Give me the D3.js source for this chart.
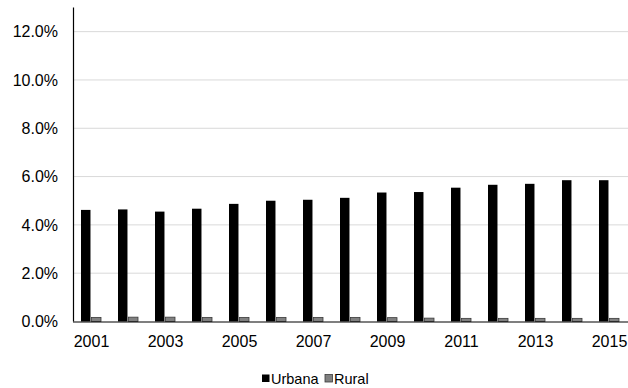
<!DOCTYPE html>
<html>
<head>
<meta charset="utf-8">
<script src="https://cdn.jsdelivr.net/npm/d3@7"></script>
<style>
  body { margin: 0; background: #fff; }
  svg { display: block; font-family: "Liberation Sans", Arial, sans-serif; }
</style>
</head>
<body>
<div id="chart"></div>
<script>
// Data
const years = ["2001", "2002", "2003", "2004", "2005", "2006", "2007", "2008",
  "2009", "2010", "2011", "2012", "2013", "2014", "2015"];
const urbana = [0.0462, 0.0464, 0.0455, 0.0467, 0.0487, 0.0500, 0.0504, 0.0512,
  0.0534, 0.0536, 0.0554, 0.0566, 0.0570, 0.0585, 0.0585];
const rural = [0.0017, 0.0018, 0.0018, 0.0017, 0.0017, 0.0017, 0.0017, 0.0017,
  0.0016, 0.0014, 0.0013, 0.0013, 0.0013, 0.0013, 0.0013];
const seriesNames = ["Urbana", "Rural"];
const yTicks = [0, 0.02, 0.04, 0.06, 0.08, 0.10, 0.12];
const xTickLabels = ["2001", "2003", "2005", "2007", "2009", "2011", "2013", "2015"];

// Layout
const width = 628;
const height = 388;
const plotLeft = 73;
const plotRight = 628;
const plotTop = 7.5;
const plotBottom = 321.5;

const colors = { Urbana: "#000000", Rural: "#808080" };
const strokes = { Urbana: "none", Rural: "#3a3a3a" };

const rows = years.map(function (y, i) {
  return { year: y, Urbana: urbana[i], Rural: rural[i] };
});

const svg = d3.select("#chart")
  .append("svg")
  .attr("width", width)
  .attr("height", height);

//-----------------------------SCALES-----------------------------//
const x0 = d3.scaleBand().domain(years).range([plotLeft, plotRight]).padding(0);
const x1 = d3.scaleBand().domain(seriesNames).range([8, 28]).paddingInner(0.1);
const y = d3.scaleLinear().domain([0, 0.13]).range([plotBottom, plotTop]);

//-----------------------------GRID-----------------------------//
svg.append("g")
  .selectAll("line")
  .data(yTicks.slice(1))
  .enter()
  .append("line")
  .attr("x1", plotLeft)
  .attr("x2", plotRight)
  .attr("y1", function (d) { return y(d); })
  .attr("y2", function (d) { return y(d); })
  .attr("stroke", "#d9d9d9")
  .attr("stroke-width", 1);

//-----------------------------BARS-----------------------------//
const groups = svg.append("g")
  .selectAll("g")
  .data(rows)
  .enter()
  .append("g")
  .attr("transform", function (d) { return `translate(${x0(d.year)},0)`; });

groups.selectAll("rect")
  .data(function (d) {
    return seriesNames.map(function (k) { return { key: k, value: d[k] }; });
  })
  .enter()
  .append("rect")
  .attr("x", function (d) { return x1(d.key); })
  .attr("width", x1.bandwidth())
  .attr("y", function (d) { return y(d.value); })
  .attr("height", function (d) { return y(0) - y(d.value); })
  .attr("fill", function (d) { return colors[d.key]; })
  .attr("stroke", function (d) { return strokes[d.key]; })
  .attr("stroke-width", 0.8);

//-----------------------------AXES-----------------------------//
const yAxis = d3.axisLeft(y)
  .tickValues(yTicks)
  .tickSize(0)
  .tickPadding(15)
  .tickFormat(d3.format(".1%"));

const yg = svg.append("g")
  .attr("transform", `translate(${plotLeft},0)`)
  .call(yAxis);
yg.select(".domain").attr("stroke", "#000").attr("stroke-width", 1.2)
  .attr("d", `M0.5,${plotTop}V${plotBottom}`);
yg.selectAll("text")
  .attr("font-size", "16px")
  .attr("fill", "#000")
  .attr("font-family", "Liberation Sans, Arial, sans-serif");

const xAxis = d3.axisBottom(x0)
  .tickValues(xTickLabels)
  .tickSize(0)
  .tickPadding(14);

const xg = svg.append("g")
  .attr("transform", `translate(0,${plotBottom})`)
  .call(xAxis);
xg.select(".domain").attr("stroke", "#000").attr("stroke-width", 1.2)
  .attr("d", `M${plotLeft},0.5H${plotRight}`);
xg.selectAll("text")
  .attr("font-size", "16px")
  .attr("fill", "#000")
  .attr("font-family", "Liberation Sans, Arial, sans-serif");

//-----------------------------LEGEND-----------------------------//
const legend = svg.append("g").attr("transform", "translate(262,374.5)");
const legendX = [0, 63];
seriesNames.forEach(function (k, i) {
  const g = legend.append("g").attr("transform", `translate(${legendX[i]},0)`);
  g.append("rect")
    .attr("width", 7.5)
    .attr("height", 7.5)
    .attr("fill", colors[k])
    .attr("stroke", strokes[k])
    .attr("stroke-width", 0.8);
  g.append("text")
    .attr("x", 9)
    .attr("y", 9)
    .attr("font-size", "14.5px")
    .attr("fill", "#000")
    .text(k);
});
</script>
</body>
</html>
